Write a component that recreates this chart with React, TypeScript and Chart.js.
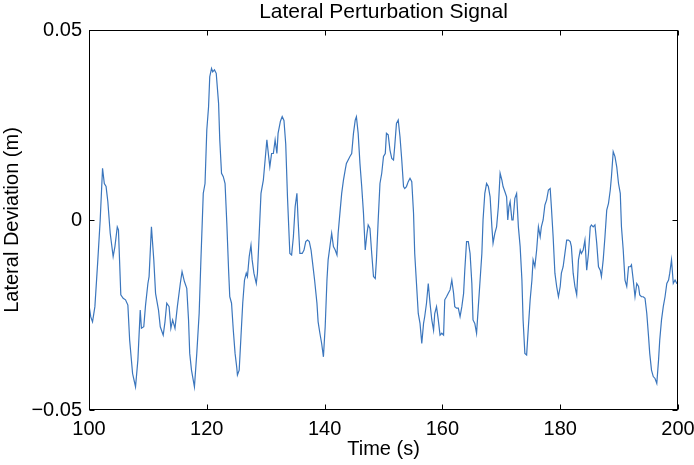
import { useEffect, useRef } from 'react';
import { Chart, registerables } from 'chart.js';

Chart.register(...registerables);

const timeS = [
  100.0, 100.3, 100.6, 101.0, 101.5, 101.9, 102.3, 102.6, 102.9, 103.2, 103.6, 104.1, 104.4, 104.8, 105.0,
  105.4, 105.8, 106.2, 106.6, 106.9, 107.4, 107.7, 107.9, 108.3, 108.7, 108.9, 109.3, 109.6, 110.0, 110.2,
  110.6, 111.0, 111.3, 111.8, 112.1, 112.6, 112.9, 113.2, 113.6, 113.9, 114.2, 114.6, 115.0, 115.5, 115.8,
  116.2, 116.6, 116.9, 117.1, 117.4, 117.9, 118.3, 118.7, 119.0, 119.4, 119.7, 120.0, 120.3, 120.5, 120.8,
  121.0, 121.3, 121.6, 122.0, 122.2, 122.5, 122.8, 123.1, 123.4, 123.7, 123.9, 124.2, 124.5, 124.8, 125.1,
  125.2, 125.5, 125.8, 126.1, 126.4, 126.7, 126.9, 127.2, 127.5, 127.7, 128.0, 128.4, 128.6, 128.9, 129.2,
  129.6, 129.9, 130.2, 130.5, 130.7, 131.0, 131.3, 131.6, 131.9, 132.1, 132.5, 132.8, 133.1, 133.4, 133.7,
  134.1, 134.4, 134.7, 135.0, 135.3, 135.5, 135.8, 136.2, 136.5, 136.8, 137.1, 137.4, 137.7, 137.9, 138.3,
  138.7, 138.9, 139.2, 139.5, 139.8, 140.1, 140.4, 140.6, 140.9, 141.2, 141.5, 141.8, 142.1, 142.3, 142.6,
  142.9, 143.2, 143.5, 143.7, 144.0, 144.3, 144.6, 144.9, 145.2, 145.4, 145.7, 146.0, 146.3, 146.6, 146.9,
  147.2, 147.4, 147.7, 148.0, 148.3, 148.6, 148.8, 149.1, 149.4, 149.7, 150.0, 150.3, 150.5, 150.8, 151.1,
  151.4, 151.7, 151.9, 152.2, 152.5, 152.8, 153.1, 153.4, 153.6, 153.9, 154.2, 154.5, 154.8, 155.1, 155.3,
  155.6, 155.9, 156.2, 156.5, 156.8, 157.0, 157.3, 157.6, 157.9, 158.2, 158.5, 158.7, 159.0, 159.3, 159.6,
  159.9, 160.2, 160.4, 160.7, 161.0, 161.3, 161.6, 161.9, 162.1, 162.4, 162.7, 163.0, 163.3, 163.6, 163.8,
  164.1, 164.4, 164.7, 165.0, 165.2, 165.5, 165.8, 166.1, 166.4, 166.7, 166.9, 167.2, 167.5, 167.8, 168.1,
  168.4, 168.6, 168.9, 169.2, 169.5, 169.8, 170.1, 170.3, 170.6, 170.9, 171.1, 171.3, 171.5, 171.8, 172.0,
  172.3, 172.6, 172.9, 173.2, 173.5, 173.7, 174.0, 174.3, 174.6, 174.9, 175.2, 175.4, 175.7, 176.0, 176.3,
  176.6, 176.8, 177.1, 177.4, 177.7, 178.0, 178.3, 178.5, 178.8, 179.1, 179.4, 179.7, 180.0, 180.2, 180.5,
  180.8, 181.1, 181.4, 181.7, 181.9, 182.2, 182.5, 182.8, 183.1, 183.4, 183.6, 183.9, 184.2, 184.5, 184.8,
  185.1, 185.3, 185.6, 185.9, 186.2, 186.5, 186.8, 187.0, 187.3, 187.6, 187.9, 188.2, 188.5, 188.7, 189.0,
  189.3, 189.6, 189.9, 190.2, 190.4, 190.7, 191.0, 191.3, 191.6, 191.9, 192.1, 192.4, 192.7, 193.0, 193.3,
  193.5, 193.8, 194.1, 194.4, 194.7, 195.0, 195.2, 195.5, 195.8, 196.1, 196.4, 196.7, 196.9, 197.2, 197.5,
  197.8, 198.1, 198.4, 198.6, 198.9, 199.2, 199.5, 199.8, 200.0,
];

const deviationM = [
  -0.0224, -0.0255, -0.0268, -0.0228, -0.0105, 0.0, 0.0136, 0.0096, 0.0088, 0.0048, -0.0035, -0.0096, -0.0070, -0.0018, -0.0026,
  -0.0197, -0.0206, -0.0210, -0.0224, -0.0316, -0.0404, -0.0425, -0.0439, -0.0368, -0.0237, -0.0285, -0.0281, -0.0224, -0.0167, -0.0149,
  -0.0018, -0.0105, -0.0193, -0.0237, -0.0281, -0.0303, -0.0268, -0.0219, -0.0228, -0.0285, -0.0263, -0.0285, -0.0228, -0.0167, -0.0136,
  -0.0162, -0.0180, -0.0263, -0.0351, -0.0395, -0.0439, -0.0351, -0.0246, -0.0105, 0.0070, 0.0096, 0.0237, 0.0298, 0.0377, 0.0399,
  0.0390, 0.0395, 0.0386, 0.0307, 0.0211, 0.0123, 0.0114, 0.0096, -0.0009, -0.0132, -0.0202, -0.0219, -0.0290, -0.0351, -0.0390,
  -0.0408, -0.0395, -0.0307, -0.0219, -0.0158, -0.0140, -0.0149, -0.0096, -0.0066, -0.0105, -0.0140, -0.0167, -0.0140, -0.0035, 0.0070,
  0.0105, 0.0158, 0.0211, 0.0167, 0.0140, 0.0175, 0.0175, 0.0211, 0.0175, 0.0228, 0.0260, 0.0272, 0.0262, 0.0200, 0.0060,
  -0.0088, -0.0092, -0.0044, 0.0035, 0.0070, 0.0000, -0.0088, -0.0088, -0.0079, -0.0057, -0.0053, -0.0057, -0.0079, -0.0105, -0.0158,
  -0.0219, -0.0268, -0.0298, -0.0325, -0.0360, -0.0281, -0.0158, -0.0105, -0.0070, -0.0035, -0.0070, -0.0079, -0.0092, -0.0035, 0.0018,
  0.0070, 0.0105, 0.0132, 0.0149, 0.0158, 0.0167, 0.0175, 0.0228, 0.0263, 0.0272, 0.0228, 0.0149, 0.0088, 0.0018, -0.0079,
  -0.0035, -0.0013, -0.0022, -0.0088, -0.0149, -0.0154, -0.0105, 0.0000, 0.0096, 0.0123, 0.0167, 0.0175, 0.0228, 0.0224, 0.0184,
  0.0162, 0.0158, 0.0193, 0.0254, 0.0263, 0.0219, 0.0158, 0.0088, 0.0083, 0.0088, 0.0101, 0.0110, 0.0101, 0.0018, -0.0088,
  -0.0167, -0.0246, -0.0272, -0.0325, -0.0272, -0.0254, -0.0219, -0.0167, -0.0219, -0.0263, -0.0290, -0.0246, -0.0228, -0.0263, -0.0303,
  -0.0298, -0.0303, -0.0210, -0.0202, -0.0193, -0.0184, -0.0158, -0.0193, -0.0228, -0.0232, -0.0232, -0.0254, -0.0228, -0.0193, -0.0132,
  -0.0057, -0.0057, -0.0088, -0.0167, -0.0263, -0.0272, -0.0298, -0.0228, -0.0158, -0.0088, 0.0000, 0.0070, 0.0096, 0.0088, 0.0061,
  -0.0018, -0.0061, -0.0035, -0.0018, 0.0035, 0.0123, 0.0105, 0.0088, 0.0075, 0.0061, 0.0000, 0.0035, 0.0048, 0.0000, 0.0000,
  0.0057, 0.0070, -0.0018, -0.0070, -0.0158, -0.0263, -0.0351, -0.0355, -0.0281, -0.0210, -0.0158, -0.0105, -0.0123, -0.0079, -0.0018,
  -0.0044, -0.0018, 0.0000, 0.0039, 0.0053, 0.0079, 0.0083, 0.0035, -0.0044, -0.0140, -0.0175, -0.0202, -0.0175, -0.0140, -0.0123,
  -0.0088, -0.0053, -0.0053, -0.0057, -0.0070, -0.0140, -0.0175, -0.0197, -0.0105, -0.0079, -0.0088, -0.0079, -0.0053, -0.0132, -0.0088,
  -0.0018, -0.0013, -0.0018, -0.0013, -0.0061, -0.0123, -0.0132, -0.0149, -0.0105, -0.0044, 0.0026, 0.0044, 0.0079, 0.0114, 0.0180,
  0.0167, 0.0140, 0.0096, 0.0070, -0.0018, -0.0079, -0.0158, -0.0175, -0.0123, -0.0123, -0.0118, -0.0158, -0.0202, -0.0167, -0.0175,
  -0.0197, -0.0202, -0.0202, -0.0206, -0.0246, -0.0307, -0.0351, -0.0395, -0.0412, -0.0417, -0.0430, -0.0368, -0.0316, -0.0263, -0.0228,
  -0.0202, -0.0167, -0.0158, -0.0140, -0.0105, -0.0167, -0.0158, -0.0167, -0.0167,
];

const xTickValues = [100, 120, 140, 160, 180, 200];
const yTickValues = [-0.05, 0, 0.05];
const yTickLabels = ['\u22120.05', '0', '0.05'];
const chartTitle = 'Lateral Perturbation Signal';

const FONT = '"Liberation Sans", Arial, Helvetica, sans-serif';

const frameTicks = {
  id: 'frameTicks',
  afterDatasetsDraw(chart: any) {
    const { ctx, chartArea, scales } = chart;
    const left = Math.round(chartArea.left) + 0.5;
    const right = Math.round(chartArea.right) - 0.5;
    const top = Math.round(chartArea.top) + 0.5;
    const bottom = Math.round(chartArea.bottom) - 0.5;
    ctx.save();
    ctx.strokeStyle = '#000';
    ctx.lineWidth = 1;
    ctx.strokeRect(left, top, right - left, bottom - top);
    const len = 5;
    ctx.beginPath();
    xTickValues.forEach((v) => {
      const px = Math.round(scales.x.getPixelForValue(v)) + 0.5;
      ctx.moveTo(px, bottom);
      ctx.lineTo(px, bottom - len);
      ctx.moveTo(px, top);
      ctx.lineTo(px, top + len);
    });
    yTickValues.forEach((v) => {
      const py = Math.round(scales.y.getPixelForValue(v)) + 0.5;
      ctx.moveTo(left, py);
      ctx.lineTo(left + len, py);
      ctx.moveTo(right, py);
      ctx.lineTo(right - len, py);
    });
    ctx.stroke();
    // title centred over the axes box
    ctx.fillStyle = '#000';
    ctx.font = `normal 21px ${FONT}`;
    ctx.textAlign = 'center';
    ctx.textBaseline = 'middle';
    ctx.fillText(chartTitle, (chartArea.left + chartArea.right) / 2, 12);
    ctx.restore();
  },
};

export default function App() {
  const canvasRef = useRef<HTMLCanvasElement | null>(null);

  useEffect(() => {
    document.body.style.margin = '0';
    const canvas = canvasRef.current;
    if (!canvas) return;
    const points = timeS.map((t, i) => ({ x: t, y: deviationM[i] }));
    const chart = new Chart(canvas, {
      type: 'line',
      data: {
        datasets: [
          {
            data: points,
            borderColor: '#3b76bd',
            borderWidth: 1.2,
            pointRadius: 0,
            fill: false,
            tension: 0,
          },
        ],
      },
      options: {
        animation: false,
        responsive: false,
        devicePixelRatio: 1,
        layout: { padding: { top: 30, right: 16, bottom: 0, left: 0 } },
        plugins: {
          legend: { display: false },
          tooltip: { enabled: false },
          title: { display: false },
        },
        scales: {
          x: {
            type: 'linear',
            min: 100,
            max: 200,
            afterBuildTicks: (s: any) => {
              s.ticks = xTickValues.map((v) => ({ value: v }));
            },
            ticks: {
              color: '#000',
              font: { family: FONT, size: 20 },
              padding: 7,
              maxRotation: 0,
              autoSkip: false,
            },
            grid: { display: false, drawTicks: false },
            border: { display: false },
            title: {
              display: true,
              text: 'Time (s)',
              color: '#000',
              font: { family: FONT, size: 20 },
              padding: { top: 0, bottom: 4 },
            },
            afterFit: (s: any) => {
              s.height = 55;
              s.paddingLeft = 0;
              s.paddingRight = 0;
            },
          },
          y: {
            type: 'linear',
            min: -0.05,
            max: 0.05,
            afterBuildTicks: (s: any) => {
              s.ticks = yTickValues.map((v) => ({ value: v }));
            },
            ticks: {
              color: '#000',
              font: { family: FONT, size: 20 },
              padding: 7,
              autoSkip: false,
              callback: (v: any) => {
                const i = yTickValues.findIndex((t) => Math.abs(t - Number(v)) < 1e-9);
                return i >= 0 ? yTickLabels[i] : '';
              },
            },
            grid: { display: false, drawTicks: false },
            border: { display: false },
            title: {
              display: true,
              text: 'Lateral Deviation (m)',
              color: '#000',
              font: { family: FONT, size: 20 },
              padding: { top: 0, bottom: 0 },
            },
            afterFit: (s: any) => {
              s.width = 89;
              s.paddingTop = 0;
              s.paddingBottom = 0;
            },
          },
        },
      },
      plugins: [frameTicks],
    });
    return () => chart.destroy();
  }, []);

  return (
    <div style={{ position: 'fixed', left: 0, top: 0, width: 694, height: 465, background: '#fff' }}>
      <canvas ref={canvasRef} width={694} height={465} style={{ width: 694, height: 465, display: 'block' }} />
    </div>
  );
}
